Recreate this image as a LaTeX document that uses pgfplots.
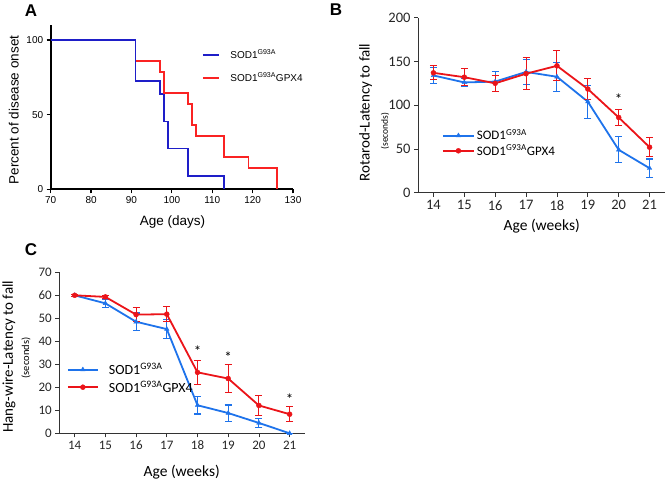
\documentclass[border=0pt]{standalone}
\usepackage{pgfplots}
\pgfplotsset{compat=1.18}
\usepackage{fontspec}
\setmainfont{Carlito}
\newfontfamily\arial{Liberation Sans}
\definecolor{ablue}{RGB}{30,30,200}
\definecolor{ared}{RGB}{250,35,35}
\definecolor{bblue}{RGB}{30,115,235}
\definecolor{bred}{RGB}{235,20,25}
\pgfplotsset{
  wk/.style={
    scale only axis,
    anchor=south west,
    xmin=13.5, xmax=21.5, ymin=0,
    xtick={14,15,...,21},
    axis x line*=bottom, axis y line*=left,
    axis line style={line width=0.8pt, black!80},
    tick align=outside, major tick length=4pt,
    tick style={line width=0.8pt, black!80},
    /pgf/number format/assume math mode=true,
    legend cell align=left,
  },
  bl/.style={bblue, line width=1.8pt, mark=triangle*, mark size=2.6pt, mark options={solid,line width=0.4pt}, forget plot,
    error bars/.cd, y dir=both, y explicit,
    error bar style={line width=1.1pt},
    error mark options={rotate=90, mark size=3.5pt, line width=1.1pt}},
  rd/.style={bred, line width=1.8pt, mark=*, mark size=2.5pt, mark options={solid,line width=0.4pt}, forget plot,
    error bars/.cd, y dir=both, y explicit,
    error bar style={line width=1.1pt},
    error mark options={rotate=90, mark size=3.5pt, line width=1.1pt}},
}
\newcommand\legB[1]{\addlegendimage{legend image code/.code={%
  \draw[bblue,line width=2pt] (0pt,0pt) -- (#1,0pt);
  \path[draw=bblue,fill=bblue,line width=0.4pt] plot[mark=triangle*, mark size=2.6pt] coordinates {(#1/2,0pt)};}}}
\newcommand\legR[1]{\addlegendimage{legend image code/.code={%
  \draw[bred,line width=1.8pt] (0pt,0pt) -- (#1,0pt);
  \path[draw=bred,fill=bred,line width=0.4pt] plot[mark=*, mark size=2.5pt] coordinates {(#1/2,0pt)};}}}
\begin{document}
\begin{tikzpicture}[x=1pt,y=1pt]
\useasboundingbox (0pt,0pt) rectangle (667pt,480pt);

% ---------------- Panel A ----------------
\begin{axis}[
  at={(50.7pt,290.7pt)}, anchor=south west, scale only axis,
  width=242.3pt, height=164.2pt,
  xmin=70, xmax=130, ymin=0, ymax=110,
  axis x line*=bottom, axis y line*=left,
  axis line style={line width=1.6pt},
  xtick={70,80,...,130}, ytick={0,50,100},
  tick align=outside, major tick length=4pt,
  tick style={line width=1.2pt, black},
  ticklabel style={font=\arial\fontsize{10}{12}\selectfont},
  /pgf/number format/assume math mode=true,
  legend style={draw=none, fill=none, at={(0.623,0.748)}, anchor=west,
    inner sep=0pt, row sep=13pt, column sep=10pt,
    font=\arial\fontsize{10}{12}\selectfont, nodes={inner sep=0pt}},
  legend cell align=left,
  legend image code/.code={\draw[#1] (0pt,0pt) -- (16.7pt,0pt);},
]
\addplot[const plot, ablue, line width=1.8pt] coordinates {
  (70,100) (91,72.73) (97,63.64) (98,45.45) (99,27.27) (104,9.09) (113,0)};
\addlegendentry{SOD1\textsuperscript{G93A}}
\addplot[const plot, ared, line width=1.8pt] coordinates {
  (91,85.71) (97,78.57) (98,64.29) (104,57.14) (105,42.86) (106,35.71) (113,21.43) (119,14.29) (126,0)};
\addlegendentry{SOD1\textsuperscript{G93A}GPX4}
\end{axis}
\node[font=\arial\bfseries\fontsize{17}{18}\selectfont] at (31pt,469.5pt) {A};
\node[rotate=90, font=\arial\fontsize{13.5}{15}\selectfont] at (13.8pt,370pt) {Percent of disease onset};
\node[font=\arial\fontsize{13.5}{15}\selectfont] at (172.5pt,258.3pt) {Age (days)};

% ---------------- Panel B ----------------
\begin{axis}[wk,
  at={(418pt,287.3pt)}, width=247pt, height=175pt,
  ymax=200, ytick={0,50,...,200},
  ticklabel style={font=\fontsize{14.5}{16}\selectfont, text=black!85},
  legend style={draw=none, fill=none, at={(0.096,0.283)}, anchor=west,
    inner sep=0pt, row sep=3.5pt, column sep=2pt,
    font=\fontsize{13}{14}\selectfont, nodes={inner sep=0pt}},
]
\addplot[bl] coordinates {
  (14,134) +- (0,9.5) (15,126) +- (0,5) (16,127) +- (0,11) (17,138) +- (0,14)
  (18,132.5) +- (0,16.5) (19,104) +- (0,19) (20,49) +- (0,15) (21,28) +- (0,10.5)};
\addplot[rd] coordinates {
  (14,137) +- (0,8) (15,132) +- (0,9.5) (16,125) +- (0,9) (17,136) +- (0,18)
  (18,145) +- (0,17) (19,118.5) +- (0,12.5) (20,86) +- (0,9) (21,52) +- (0,11)};
\legB{31pt}
\addlegendentry{SOD1\textsuperscript{G93A}}
\legR{31pt}
\addlegendentry{SOD1\textsuperscript{G93A}GPX4}
\node[font=\fontsize{15}{16}\selectfont] at (axis cs:20,107) {*};
\end{axis}
\node[font=\arial\bfseries\fontsize{17}{18}\selectfont] at (336pt,470pt) {B};
\node[rotate=90, font=\fontsize{15}{17}\selectfont] at (365.7pt,367.5pt) {Rotarod-Latency to fall};
\node[rotate=90, font=\fontsize{9.5}{11}\selectfont] at (385pt,349pt) {(seconds)};
\node[font=\fontsize{15.5}{17}\selectfont] at (541.7pt,254pt) {Age (weeks)};

% ---------------- Panel C ----------------
\begin{axis}[wk,
  at={(59.3pt,46.7pt)}, width=245.7pt, height=161pt,
  ymax=70, ytick={0,10,...,70},
  ticklabel style={font=\fontsize{13}{15}\selectfont, text=black!85},
  legend style={draw=none, fill=none, at={(0.03,0.341)}, anchor=west,
    inner sep=0pt, row sep=4.5pt, column sep=10pt,
    font=\fontsize{14}{15}\selectfont, nodes={inner sep=0pt}},
]
\addplot[bl] coordinates {
  (14,60) +- (0,0.5) (15,56.5) +- (0,1.8) (16,48.5) +- (0,3.8) (17,45.3) +- (0,4.1)
  (18,12.2) +- (0,3.8) (19,8.8) +- (0,3.5) (20,4.5) +- (0,2) (21,0) +- (0,0)};
\addplot[rd] coordinates {
  (14,60) +- (0,0.5) (15,59.3) +- (0,0.8) (16,51.6) +- (0,3) (17,51.8) +- (0,3.2)
  (18,26.5) +- (0,5.2) (19,23.8) +- (0,6.2) (20,12.1) +- (0,4.5) (21,8.3) +- (0,3.3)};
\legB{30pt}
\addlegendentry{SOD1\textsuperscript{G93A}}
\legR{30pt}
\addlegendentry{SOD1\textsuperscript{G93A}GPX4}
\node[font=\fontsize{15}{16}\selectfont] at (axis cs:18,35.8) {*};
\node[font=\fontsize{15}{16}\selectfont] at (axis cs:19,33.2) {*};
\node[font=\fontsize{15}{16}\selectfont] at (axis cs:21,14.8) {*};
\end{axis}
\node[font=\arial\bfseries\fontsize{17}{18}\selectfont] at (31pt,230pt) {C};
\node[rotate=90, font=\fontsize{15}{17}\selectfont] at (9pt,123.3pt) {Hang-wire-Latency to fall};
\node[rotate=90, font=\fontsize{10.5}{12}\selectfont] at (26pt,122pt) {(seconds)};
\node[font=\fontsize{15.5}{17}\selectfont] at (181.7pt,7.7pt) {Age (weeks)};
\end{tikzpicture}
\end{document}
